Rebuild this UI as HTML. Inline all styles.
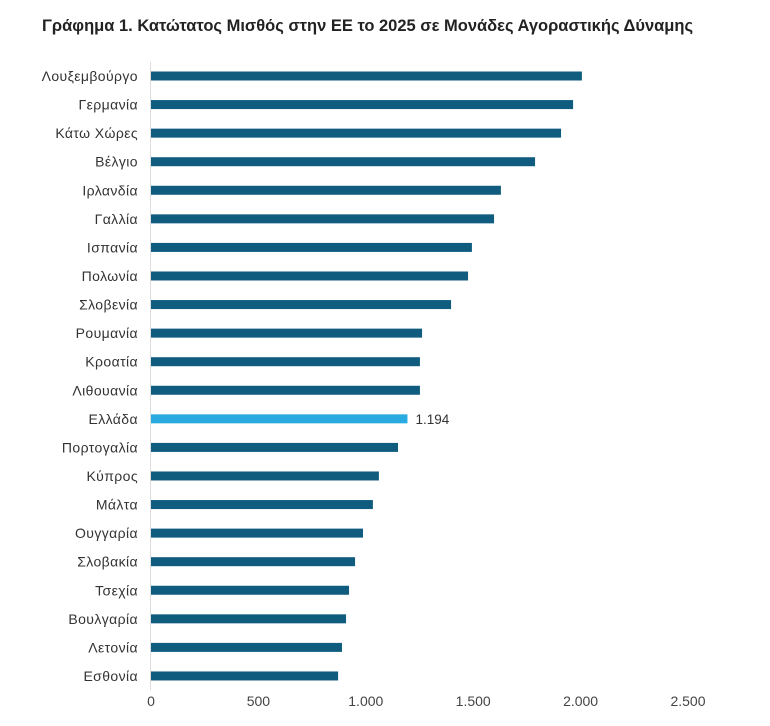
<!DOCTYPE html>
<html><head><meta charset="utf-8"><style>
body{margin:0;background:#fff;font-family:"Liberation Sans","DejaVu Sans",sans-serif;}
</style></head><body>
<svg id="c" width="770" height="721">
<text x="42" y="31" font-size="16.5" font-weight="bold" fill="#222">Γράφημα 1. Κατώτατος Μισθός στην ΕΕ το 2025 σε Μονάδες Αγοραστικής Δύναμης</text>
<line x1="150.5" y1="62" x2="150.5" y2="690" stroke="#ddd"/>
</svg>
<script>
const categories=["Λουξεμβούργο","Γερμανία","Κάτω Χώρες","Βέλγιο","Ιρλανδία","Γαλλία","Ισπανία","Πολωνία","Σλοβενία","Ρουμανία","Κροατία","Λιθουανία","Ελλάδα","Πορτογαλία","Κύπρος","Μάλτα","Ουγγαρία","Σλοβακία","Τσεχία","Βουλγαρία","Λετονία","Εσθονία"];
const values=[2006,1965,1909,1788,1629,1597,1494,1476,1397,1262,1252,1252,1194,1150,1061,1033,987,950,922,908,889,871];
const ticks=[0,500,1000,1500,2000,2500];
const tickLabels=["0","500","1.000","1.500","2.000","2.500"];
const svg=document.getElementById('c');const NS="http://www.w3.org/2000/svg";
const x=v=>151+v*0.2148;
const y=i=>76+i*28.57;
function mk(t,a){const e=document.createElementNS(NS,t);for(const k in a)e.setAttribute(k,a[k]);svg.appendChild(e);return e;}
categories.forEach((c,i)=>{
 const hi=c==="Ελλάδα";
 const r=mk('rect',{x:151,y:y(i)-4.5,width:x(values[i])-151,height:9,fill:hi?'#29abe2':'#0f5c7e'});
 
 
 const t=mk('text',{x:138,y:y(i)+5,'font-size':14,'letter-spacing':0.4,'text-anchor':'end',fill:'#333'});
 t.textContent=c;
 
 
 if(hi){const l=mk('text',{x:x(values[i])+8,y:y(i)+5,'font-size':13.5,fill:'#333'});
  l.textContent=values[i].toLocaleString('de-DE');
  
  }
});
ticks.forEach((v,i)=>{
 const t=mk('text',{x:x(v),y:706,'font-size':14,'text-anchor':'middle',fill:'#444'});
 t.textContent=tickLabels[i];
 
 
});
</script>
</body></html>
